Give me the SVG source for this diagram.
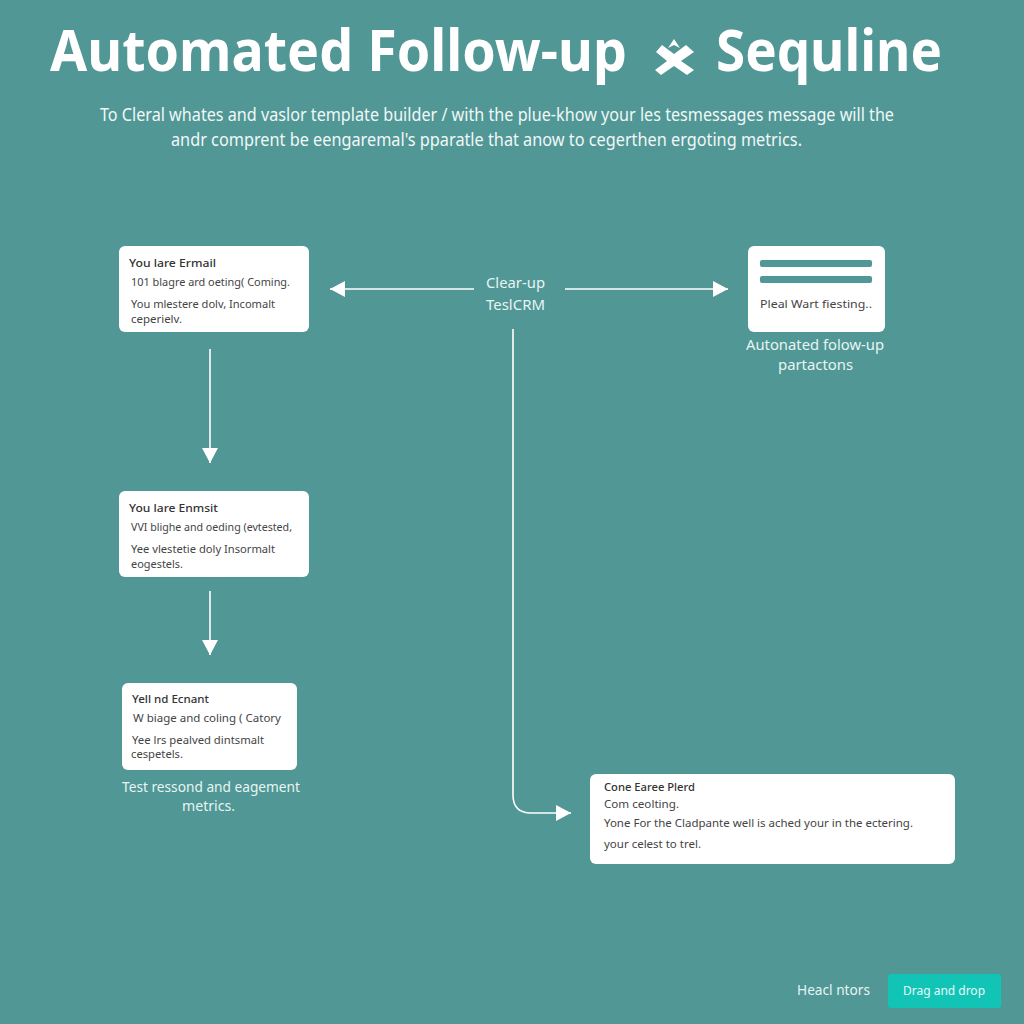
<svg xmlns="http://www.w3.org/2000/svg" width="1024" height="1024" viewBox="0 0 1024 1024">
<style>
text{font-family:"Noto Sans","Open Sans","Liberation Sans",sans-serif}
.bg{fill:#519795}
.title{font-size:58px;font-weight:700;fill:#fff}
.sub{font-size:17.5px;fill:#f0f8f7}
.lab{font-size:15px;fill:#e6f5f3}
.card{fill:#fff}
.h{font-size:11.5px;font-weight:500;fill:#333}
.b{font-size:11.5px;fill:#444}
.c{fill:none;stroke:#fff;stroke-width:1.6}
.bar{fill:#519795}
</style>
<defs>
<marker id="ah" markerUnits="userSpaceOnUse" markerWidth="16" markerHeight="16" refX="15" refY="8" orient="auto"><path d="M0 0L15 8L0 16Z" fill="#fff"/></marker>
</defs>
<rect class="bg" width="1024" height="1024"/>
<g id="header">
<text class="title" x="50" y="71" textLength="577" lengthAdjust="spacingAndGlyphs">Automated Follow-up</text>
<path d="M662 45L674 54L686 45L694 52L681 61L694 70L687 75L674 66L661 75L655 70L667 61L656 52Z M668 48L674 39L680 48L674 45Z" fill="#fff"/>
<text class="title" x="716" y="71" textLength="226" lengthAdjust="spacingAndGlyphs">Sequline</text>
<text class="sub" x="100" y="121" textLength="794" lengthAdjust="spacingAndGlyphs">To Cleral whates and vaslor template builder / with the plue-khow your les tesmessages message will the</text>
<text class="sub" x="171" y="146" textLength="631" lengthAdjust="spacingAndGlyphs">andr comprent be eengaremal's pparatle that anow to cegerthen ergoting metrics.</text>
</g>
<g id="connectors">
<path class="c" d="M474 289H330" marker-end="url(#ah)"/>
<path class="c" d="M565 289H728" marker-end="url(#ah)"/>
<path class="c" d="M210 349V463" marker-end="url(#ah)"/>
<path class="c" d="M210 591V655" marker-end="url(#ah)"/>
<path class="c" d="M513 329V795Q513 813 531 813H571" marker-end="url(#ah)"/>
</g>
<g id="node-crm">
<text class="lab" x="486" y="288" textLength="59" lengthAdjust="spacingAndGlyphs">Clear-up</text>
<text class="lab" x="486" y="310" textLength="59" lengthAdjust="spacingAndGlyphs">TeslCRM</text>
</g>
<g id="node-email-1">
<rect class="card" x="119" y="246" width="190" height="86" rx="6"/>
<text class="h" x="129" y="267" textLength="87" lengthAdjust="spacingAndGlyphs">You lare Ermail</text>
<text class="b" x="131" y="286" textLength="159" lengthAdjust="spacingAndGlyphs">101 blagre ard oeting( Coming.</text>
<text class="b" x="131" y="308" textLength="144" lengthAdjust="spacingAndGlyphs">You mlestere dolv, Incomalt</text>
<text class="b" x="131" y="323" textLength="51" lengthAdjust="spacingAndGlyphs">ceperielv.</text>
</g>
<g id="node-email-2">
<rect class="card" x="119" y="491" width="190" height="86" rx="6"/>
<text class="h" x="129" y="512" textLength="89" lengthAdjust="spacingAndGlyphs">You lare Enmsit</text>
<text class="b" x="131" y="531" textLength="161" lengthAdjust="spacingAndGlyphs">VVI blighe and oeding (evtested,</text>
<text class="b" x="131" y="553" textLength="144" lengthAdjust="spacingAndGlyphs">Yee vlestetie doly Insormalt</text>
<text class="b" x="131" y="568" textLength="52" lengthAdjust="spacingAndGlyphs">eogestels.</text>
</g>
<g id="node-email-3">
<rect class="card" x="122" y="683" width="175" height="87" rx="6"/>
<text class="h" x="132" y="703" textLength="77" lengthAdjust="spacingAndGlyphs">Yell nd Ecnant</text>
<text class="b" x="133" y="722" textLength="148" lengthAdjust="spacingAndGlyphs">W biage and coling ( Catory</text>
<text class="b" x="132" y="744" textLength="132" lengthAdjust="spacingAndGlyphs">Yee lrs pealved dintsmalt</text>
<text class="b" x="131" y="758" textLength="52" lengthAdjust="spacingAndGlyphs">cespetels.</text>
<text class="lab" x="122" y="792" textLength="178" lengthAdjust="spacingAndGlyphs">Test ressond and eagement</text>
<text class="lab" x="182" y="811" textLength="53" lengthAdjust="spacingAndGlyphs">metrics.</text>
</g>
<g id="node-template">
<rect class="card" x="748" y="246" width="137" height="86" rx="6"/>
<rect class="bar" x="760" y="260" width="112" height="7" rx="2"/>
<rect class="bar" x="760" y="276" width="112" height="7" rx="2"/>
<text class="b" x="760" y="308" textLength="112" lengthAdjust="spacingAndGlyphs">Pleal Wart fiesting..</text>
<text class="lab" x="746" y="350" textLength="138" lengthAdjust="spacingAndGlyphs">Autonated folow-up</text>
<text class="lab" x="778" y="370" textLength="75" lengthAdjust="spacingAndGlyphs">partactons</text>
</g>
<g id="node-final">
<rect class="card" x="590" y="774" width="365" height="90" rx="6"/>
<text class="h" x="604" y="791" textLength="91" lengthAdjust="spacingAndGlyphs">Cone Earee Plerd</text>
<text class="b" x="604" y="808" textLength="75" lengthAdjust="spacingAndGlyphs">Com ceolting.</text>
<text class="b" x="604" y="827" textLength="309" lengthAdjust="spacingAndGlyphs">Yone For the Cladpante well is ached your in the ectering.</text>
<text class="b" x="604" y="848" textLength="97" lengthAdjust="spacingAndGlyphs">your celest to trel.</text>
</g>
<g id="node-actions">
<text x="797" y="995" font-size="13.5" fill="#e6f5f3" textLength="73" lengthAdjust="spacingAndGlyphs">Heacl ntors</text>
<rect x="888" y="974" width="113" height="34" rx="3" fill="#12c4b6"/>
<text x="903" y="995" font-size="12.5" fill="#e8fbf8" textLength="82" lengthAdjust="spacingAndGlyphs">Drag and drop</text>
</g>
</svg>
